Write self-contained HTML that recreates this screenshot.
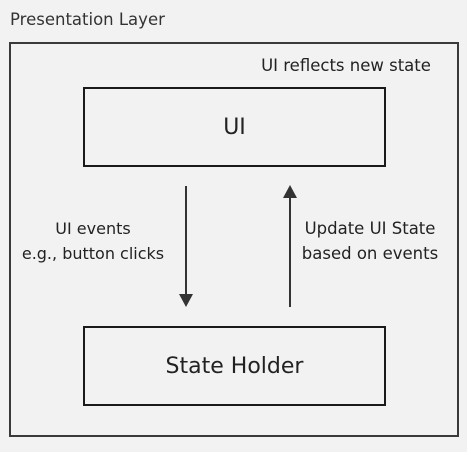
<!DOCTYPE html>
<html><head><style>
html,body{margin:0;padding:0;background:#f2f2f2;}
body{width:467px;height:452px;position:relative;overflow:hidden;font-family:"DejaVu Sans","Liberation Sans",sans-serif;color:#222;}
.t{position:absolute;white-space:nowrap;}
.box{position:absolute;box-sizing:border-box;}
</style></head><body>
<div class="t" style="left:10px;top:10px;font-size:16.5px;color:#333;">Presentation Layer</div>
<div class="box" style="left:9px;top:42px;width:450px;height:395px;border:2px solid #3a3a3a;"></div>
<div class="t" style="left:246px;top:56px;width:200px;text-align:center;font-size:16.5px;">UI reflects new state</div>
<div class="box" style="left:83px;top:87px;width:303px;height:80px;border:2px solid #1a1a1a;"></div>
<div class="t" style="left:83px;top:115px;width:303px;text-align:center;font-size:22px;">UI</div>
<div class="box" style="left:83px;top:326px;width:303px;height:80px;border:2px solid #1a1a1a;"></div>
<div class="t" style="left:83px;top:354px;width:303px;text-align:center;font-size:22px;">State Holder</div>
<div class="t" style="left:0px;top:216px;width:186px;text-align:center;font-size:16px;line-height:25px;">UI events<br>e.g., button clicks</div>
<div class="t" style="left:290px;top:216px;width:160px;text-align:center;font-size:16.5px;line-height:25px;">Update UI State<br>based on events</div>
<svg width="467" height="452" style="position:absolute;left:0;top:0">
<line x1="186" y1="186" x2="186" y2="300" stroke="#333" stroke-width="2"/>
<polygon points="179,294 193,294 186,307" fill="#333"/>
<line x1="290" y1="307" x2="290" y2="192" stroke="#333" stroke-width="2"/>
<polygon points="283,198 297,198 290,185" fill="#333"/>
</svg>
</body></html>
